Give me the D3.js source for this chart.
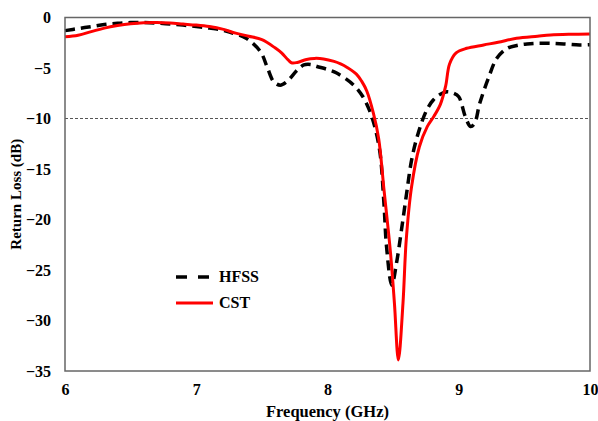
<!DOCTYPE html>
<html><head><meta charset="utf-8">
<script src="https://cdn.jsdelivr.net/npm/d3@7"></script>
<style>body{margin:0;background:#fff}svg{display:block}text{font-family:"Liberation Serif","Times New Roman",serif;font-weight:bold}</style>
</head><body>
<script>
const xTicks = [6,7,8,9,10];
const yTicks = [0,-5,-10,-15,-20,-25,-30,-35];
const seriesNames = ["HFSS","CST"];
const threshold = -10;
const hfssFreq = [6.0,6.1,6.2,6.3,6.4,6.5,6.6,6.7,6.8,6.9,7.0,7.1,7.2,7.26,7.38,7.49,7.54,7.59,7.64,7.69,7.77,7.82,7.87,7.92,8.0,8.07,8.2,8.27,8.32,8.36,8.4,8.43,8.45,8.49,8.526,8.564,8.603,8.641,8.69,8.756,8.806,8.86,8.91,8.96,9.0,9.05,9.09,9.12,9.16,9.23,9.29,9.37,9.45,9.52,9.6,9.7,9.8,9.92,10.0];
const hfssRL = [-1.3,-1.1,-0.9,-0.7,-0.58,-0.5,-0.5,-0.55,-0.65,-0.75,-0.9,-1.05,-1.25,-1.47,-2.06,-3.4,-4.9,-6.35,-6.7,-6.35,-5.2,-4.7,-4.65,-4.85,-5.15,-5.5,-6.7,-7.85,-9.2,-10.8,-13.4,-18.4,-22.7,-26.5,-24.3,-21,-17.4,-14.1,-11.5,-9.16,-8.17,-7.6,-7.35,-7.5,-7.85,-9.8,-10.8,-10.5,-8.5,-5.86,-4.04,-3.05,-2.75,-2.62,-2.55,-2.56,-2.62,-2.72,-2.7];
const cstFreq = [6.0,6.1,6.2,6.3,6.4,6.5,6.6,6.7,6.8,6.9,7.0,7.1,7.2,7.3,7.4,7.5,7.6,7.65,7.7,7.73,7.77,7.84,7.9,7.97,8.05,8.1,8.15,8.22,8.26,8.3,8.35,8.39,8.43,8.48,8.51,8.54,8.575,8.6,8.64,8.7,8.76,8.81,8.86,8.9,8.93,8.98,9.06,9.19,9.3,9.44,9.6,9.7,9.85,10.0];
const cstRL = [-1.9,-1.75,-1.4,-1.05,-0.8,-0.62,-0.52,-0.5,-0.55,-0.65,-0.75,-0.9,-1.15,-1.55,-1.85,-2.2,-3.0,-3.5,-4.2,-4.5,-4.45,-4.15,-4.05,-4.1,-4.35,-4.6,-4.95,-5.6,-6.3,-7.3,-9.5,-12,-17,-23.3,-28.3,-33.9,-28.3,-22,-16.8,-12.8,-10.8,-9.8,-8.6,-6.8,-4.6,-3.5,-3.05,-2.72,-2.45,-2.06,-1.85,-1.73,-1.66,-1.63];

const W=598,H=421, L=65,R=590,T=17.5,B=371;
const svg=d3.select("body").append("svg").attr("width",W).attr("height",H);
const x=d3.scaleLinear().domain([6,10]).range([L,R]);
const y=d3.scaleLinear().domain([0,-35]).range([T,B]);

svg.append("line").attr("x1",x(6)).attr("x2",x(10)).attr("y1",y(threshold)).attr("y2",y(threshold))
 .attr("stroke","#555").attr("stroke-width",1).attr("stroke-dasharray","3,2");

const line=d3.line().x(d=>x(d[0])).y(d=>y(d[1])).curve(d3.curveCatmullRom.alpha(0.5));
const hfss=hfssFreq.map((f,i)=>[f,hfssRL[i]]);
const cst=cstFreq.map((f,i)=>[f,cstRL[i]]);
svg.append("path").datum(hfss).attr("d",line).attr("fill","none").attr("stroke","#000").attr("stroke-width",3.5).attr("stroke-dasharray","10,6");
svg.append("path").datum(cst).attr("d",line).attr("fill","none").attr("stroke","#ff0000").attr("stroke-width",3);

svg.append("rect").attr("x",L).attr("y",T).attr("width",R-L).attr("height",B-T).attr("fill","none").attr("stroke","#666").attr("stroke-width",1.5);

const xAxis=d3.axisBottom(x).tickValues(xTicks).tickSize(0).tickPadding(13).tickFormat(d3.format("d"));
const gx=svg.append("g").attr("transform",`translate(0,${B})`).call(xAxis);
gx.select(".domain").remove();
gx.selectAll("text").attr("font-size",16).attr("fill","#000").style("font-family","Liberation Serif").style("font-weight","bold");
const yAxis=d3.axisLeft(y).tickValues(yTicks).tickSize(0).tickPadding(14).tickFormat(d3.format("d"));
const gy=svg.append("g").attr("transform",`translate(${L},0)`).call(yAxis);
gy.select(".domain").remove();
gy.selectAll("text").attr("font-size",16).attr("fill","#000").style("font-family","Liberation Serif").style("font-weight","bold");

svg.append("text").attr("x",(L+R)/2).attr("y",417).attr("text-anchor","middle").attr("font-size",16.5).text("Frequency (GHz)");
svg.append("text").attr("transform",`translate(21,${(T+B)/2}) rotate(-90)`).attr("text-anchor","middle").attr("font-size",15).text("Return Loss (dB)");

const leg=[{n:seriesNames[0],c:"#000",d:"11,11",w:3.5,y:277},{n:seriesNames[1],c:"#ff0000",d:null,w:3,y:303}];
leg.forEach(l=>{
  svg.append("line").attr("x1",176).attr("x2",213).attr("y1",l.y).attr("y2",l.y).attr("stroke",l.c).attr("stroke-width",l.w).attr("stroke-dasharray",l.d);
  svg.append("text").attr("x",219).attr("y",l.y+5).attr("font-size",16).text(l.n);
});
</script>
</body></html>
